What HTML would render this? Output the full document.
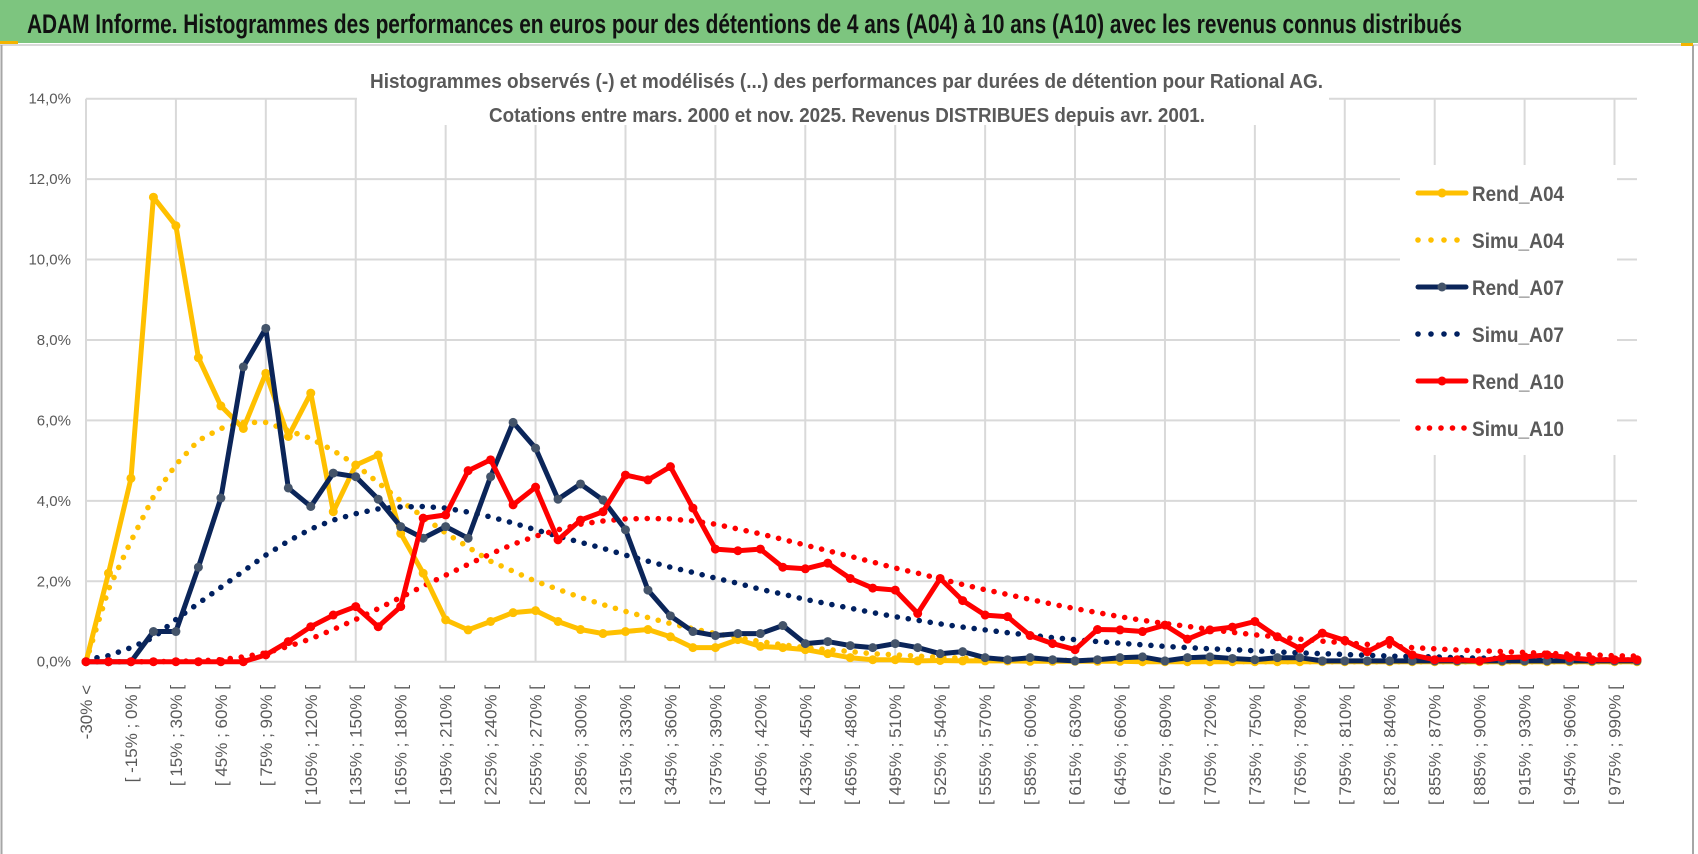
<!DOCTYPE html>
<html><head><meta charset="utf-8"><title>ADAM Informe – Rational AG</title>
<style>
html,body{margin:0;padding:0;background:#fff;}
svg{display:block;font-family:"Liberation Sans",sans-serif;}
</style></head>
<body>
<svg id="chart" width="1698" height="854" viewBox="0 0 1698 854" xmlns="http://www.w3.org/2000/svg">
  <rect x="0" y="0" width="1698" height="854" fill="#fff"/>
  <rect x="0" y="0" width="1698" height="43" fill="#7dc57f"/>
  <rect x="0" y="41" width="18" height="3" fill="#f4b400"/>
  <line x1="0" y1="45" x2="1698" y2="45" stroke="#d9d9d9" stroke-width="2"/>
  <line x1="1.5" y1="45" x2="1.5" y2="854" stroke="#a6a6a6" stroke-width="2"/>
  <line x1="1693" y1="45" x2="1693" y2="854" stroke="#a6a6a6" stroke-width="2"/>
  <rect x="1681" y="43" width="12" height="3" fill="#f4b400"/>
  <text x="27" y="33" font-size="27" font-weight="bold" fill="#111" textLength="1435" lengthAdjust="spacingAndGlyphs">ADAM Informe. Histogrammes des performances en euros pour des détentions de 4 ans (A04) à 10 ans (A10) avec les revenus connus distribués</text>
  <g id="grid"></g>
  <g id="yaxis"></g>
  <rect x="357" y="55" width="972" height="70" fill="#fff"/>
  <text x="370" y="88" font-size="20" font-weight="bold" fill="#595959" textLength="953" lengthAdjust="spacingAndGlyphs">Histogrammes observés (-) et modélisés (...) des performances par durées de détention pour Rational AG.</text>
  <text x="489" y="122" font-size="20" font-weight="bold" fill="#595959" textLength="716" lengthAdjust="spacingAndGlyphs">Cotations entre mars. 2000  et nov. 2025.  Revenus DISTRIBUES depuis avr. 2001.</text>
  <g id="xaxis"></g>
  <g id="series"></g>
  <g id="legend"></g>
</svg>
<script>
const rendA04 = [0,2.2,4.56,11.55,10.84,7.56,6.36,5.8,7.17,5.6,6.68,3.73,4.89,5.14,3.19,2.2,1.04,0.79,1.0,1.22,1.27,1.0,0.8,0.7,0.75,0.8,0.62,0.35,0.35,0.55,0.38,0.35,0.3,0.2,0.1,0.05,0.05,0.02,0.03,0.02,0.02,0.02,0.01,0.01,0.01,0.01,0.01,0.0,0,0,0,0,0,0,0,0,0,0,0,0,0,0,0,0,0,0,0,0,0,0];
const simuA04 = [0,1.8,3.0,4.1,4.9,5.5,5.8,5.95,5.95,5.75,5.55,5.25,4.9,4.45,4.0,3.6,3.2,2.85,2.5,2.25,2.0,1.8,1.6,1.42,1.25,1.1,0.95,0.82,0.7,0.6,0.5,0.42,0.35,0.3,0.25,0.2,0.17,0.14,0.11,0.09,0.07,0.06,0.05,0.04,0.03,0.03,0.02,0.02,0.01,0.01,0.01,0.01,0,0,0,0,0,0,0,0,0,0,0,0,0,0,0,0,0,0];
const rendA07 = [0,0,0,0.75,0.75,2.35,4.07,7.33,8.29,4.32,3.86,4.69,4.6,4.04,3.36,3.07,3.36,3.07,4.6,5.95,5.31,4.04,4.42,4.02,3.28,1.78,1.14,0.75,0.65,0.7,0.7,0.9,0.45,0.5,0.4,0.35,0.45,0.35,0.2,0.25,0.1,0.05,0.1,0.05,0.02,0.05,0.1,0.12,0.02,0.1,0.12,0.08,0.05,0.1,0.1,0.02,0.02,0.02,0.02,0.02,0.02,0.02,0.02,0.02,0.02,0.02,0.02,0.02,0.02,0.02];
const simuA07 = [0.05,0.15,0.35,0.6,1.05,1.45,1.85,2.25,2.65,3.0,3.3,3.52,3.68,3.8,3.85,3.86,3.82,3.72,3.6,3.45,3.28,3.12,2.97,2.82,2.65,2.5,2.35,2.22,2.08,1.95,1.8,1.68,1.55,1.44,1.33,1.22,1.12,1.03,0.94,0.86,0.79,0.72,0.66,0.6,0.55,0.5,0.46,0.42,0.38,0.35,0.32,0.3,0.27,0.24,0.22,0.2,0.18,0.16,0.14,0.13,0.12,0.1,0.09,0.08,0.07,0.06,0.06,0.05,0.05,0.04];
const rendA10 = [0,0,0,0,0,0,0,0,0.17,0.5,0.87,1.16,1.37,0.87,1.37,3.57,3.65,4.75,5.02,3.9,4.34,3.03,3.52,3.73,4.64,4.52,4.85,3.82,2.8,2.76,2.8,2.35,2.31,2.45,2.07,1.83,1.78,1.2,2.07,1.52,1.16,1.12,0.65,0.45,0.3,0.8,0.79,0.75,0.91,0.56,0.79,0.86,1.0,0.62,0.33,0.71,0.53,0.25,0.53,0.17,0.05,0.05,0.02,0.1,0.12,0.17,0.1,0.05,0.05,0.05];
const simuA10 = [0,0,0,0,0.01,0.02,0.05,0.12,0.22,0.38,0.57,0.8,1.05,1.32,1.6,1.88,2.15,2.42,2.68,2.92,3.12,3.28,3.42,3.5,3.55,3.56,3.55,3.5,3.42,3.3,3.18,3.04,2.9,2.76,2.62,2.48,2.33,2.2,2.06,1.92,1.79,1.67,1.55,1.43,1.32,1.22,1.12,1.03,0.95,0.88,0.8,0.73,0.67,0.62,0.56,0.51,0.47,0.43,0.39,0.35,0.32,0.29,0.27,0.25,0.23,0.21,0.19,0.17,0.15,0.14];
const yTicks = [0,2,4,6,8,10,12,14];
const binStart = -30;
const binStep = 15;
const nCats = 70;
const seriesNames = ["Rend_A04","Simu_A04","Rend_A07","Simu_A07","Rend_A10","Simu_A10"];

const NS = "http://www.w3.org/2000/svg";
const X0 = 86, X1 = 1637, Y0 = 661.7, Y14 = 98.7;
const dx = (X1 - X0) / (nCats - 1);
function xs(i){ return X0 + i * dx; }
function ys(v){ return Y0 - (v / 14) * (Y0 - Y14); }
function mk(tag, attrs, parent){
  const e = document.createElementNS(NS, tag);
  for (const k in attrs) e.setAttribute(k, attrs[k]);
  parent.appendChild(e);
  return e;
}
function catLabel(i){
  if (i === 0) return "-30% <";
  const a = binStart + binStep*(i-1), b = a + binStep;
  return "[ " + a + "% ; " + b + "% [";
}

const grid = document.getElementById("grid");
yTicks.forEach(t => {
  const l = mk("line", {x1:X0, x2:X1, y1:ys(t), y2:ys(t), stroke:"#d9d9d9", "stroke-width":2}, grid);
  
  
});
for (let i = 0; i < nCats; i += 4) {
  const l = mk("line", {x1:xs(i), x2:xs(i), y1:Y14, y2:Y0, stroke:"#d9d9d9", "stroke-width":2}, grid);
  
  
}

const yax = document.getElementById("yaxis");
yTicks.forEach(t => {
  const tx = mk("text", {x:71, y:ys(t)+5, "text-anchor":"end", "font-size":15, fill:"#595959"}, yax);
  tx.textContent = t.toFixed(1).replace(".", ",") + "%";
  
  
});

const xax = document.getElementById("xaxis");
for (let i = 0; i < nCats; i += 2) {
  const tx = mk("text", {x:0, y:0, "text-anchor":"end", "font-size":17, fill:"#595959",
    transform:"translate(" + (xs(i)+6) + ",685) rotate(-90)"}, xax);
  tx.textContent = catLabel(i);
  
  
}

const ser = document.getElementById("series");
function pathD(arr){ return arr.map((v,i) => (i ? "L" : "M") + xs(i).toFixed(1) + "," + ys(v).toFixed(1)).join(" "); }
function dotted(arr, color, name){
  const p = mk("path", {d:pathD(arr), fill:"none", stroke:color, "stroke-width":5.5, "stroke-linecap":"round", "stroke-dasharray":"0.1 11"}, ser);
  
  
}
function solid(arr, color, mcolor, name){
  const g = mk("g", {}, ser);
  
  
  const p = mk("path", {d:pathD(arr), fill:"none", stroke:color, "stroke-width":5, "stroke-linejoin":"round"}, g);
  
  
  arr.forEach((v,i) => {
    const c = mk("circle", {cx:xs(i), cy:ys(v), r:4.5, fill:mcolor}, g);
    
    
  });
}
dotted(simuA04, "#ffc000", "simu-a04-series");
dotted(simuA07, "#002060", "simu-a07-series");
dotted(simuA10, "#ff0000", "simu-a10-series");
solid(rendA04, "#ffc000", "#ffc000", "rend-a04-series");
solid(rendA07, "#0b2559", "#44546a", "rend-a07-series");
solid(rendA10, "#ff0000", "#ff0000", "rend-a10-series");

const leg = document.getElementById("legend");
const lb = mk("rect", {x:1400, y:165, width:217, height:290, fill:"#fff"}, leg);


const legColors = ["#ffc000","#ffc000","#0b2559","#002060","#ff0000","#ff0000"];
const legMarker = ["#ffc000",null,"#44546a",null,"#ff0000",null];
seriesNames.forEach((nm, k) => {
  const y = 193 + k * 47;
  const g = mk("g", {}, leg);
  
  
  if (legMarker[k]) {
    mk("line", {x1:1418, x2:1466, y1:y, y2:y, stroke:legColors[k], "stroke-width":5, "stroke-linecap":"round"}, g);
    mk("circle", {cx:1442, cy:y, r:4.5, fill:legMarker[k]}, g);
  } else {
    const n = k === 5 ? 5 : 4;
    for (let j = 0; j < n; j++) mk("circle", {cx:1418 + j*(k===5?11.5:13), cy:y, r:2.8, fill:legColors[k]}, g);
  }
  const t = mk("text", {x:1472, y:y+8, "font-size":21, "font-weight":"bold", fill:"#595959", textLength:92, lengthAdjust:"spacingAndGlyphs"}, g);
  t.textContent = nm;
});
</script>
</body></html>
